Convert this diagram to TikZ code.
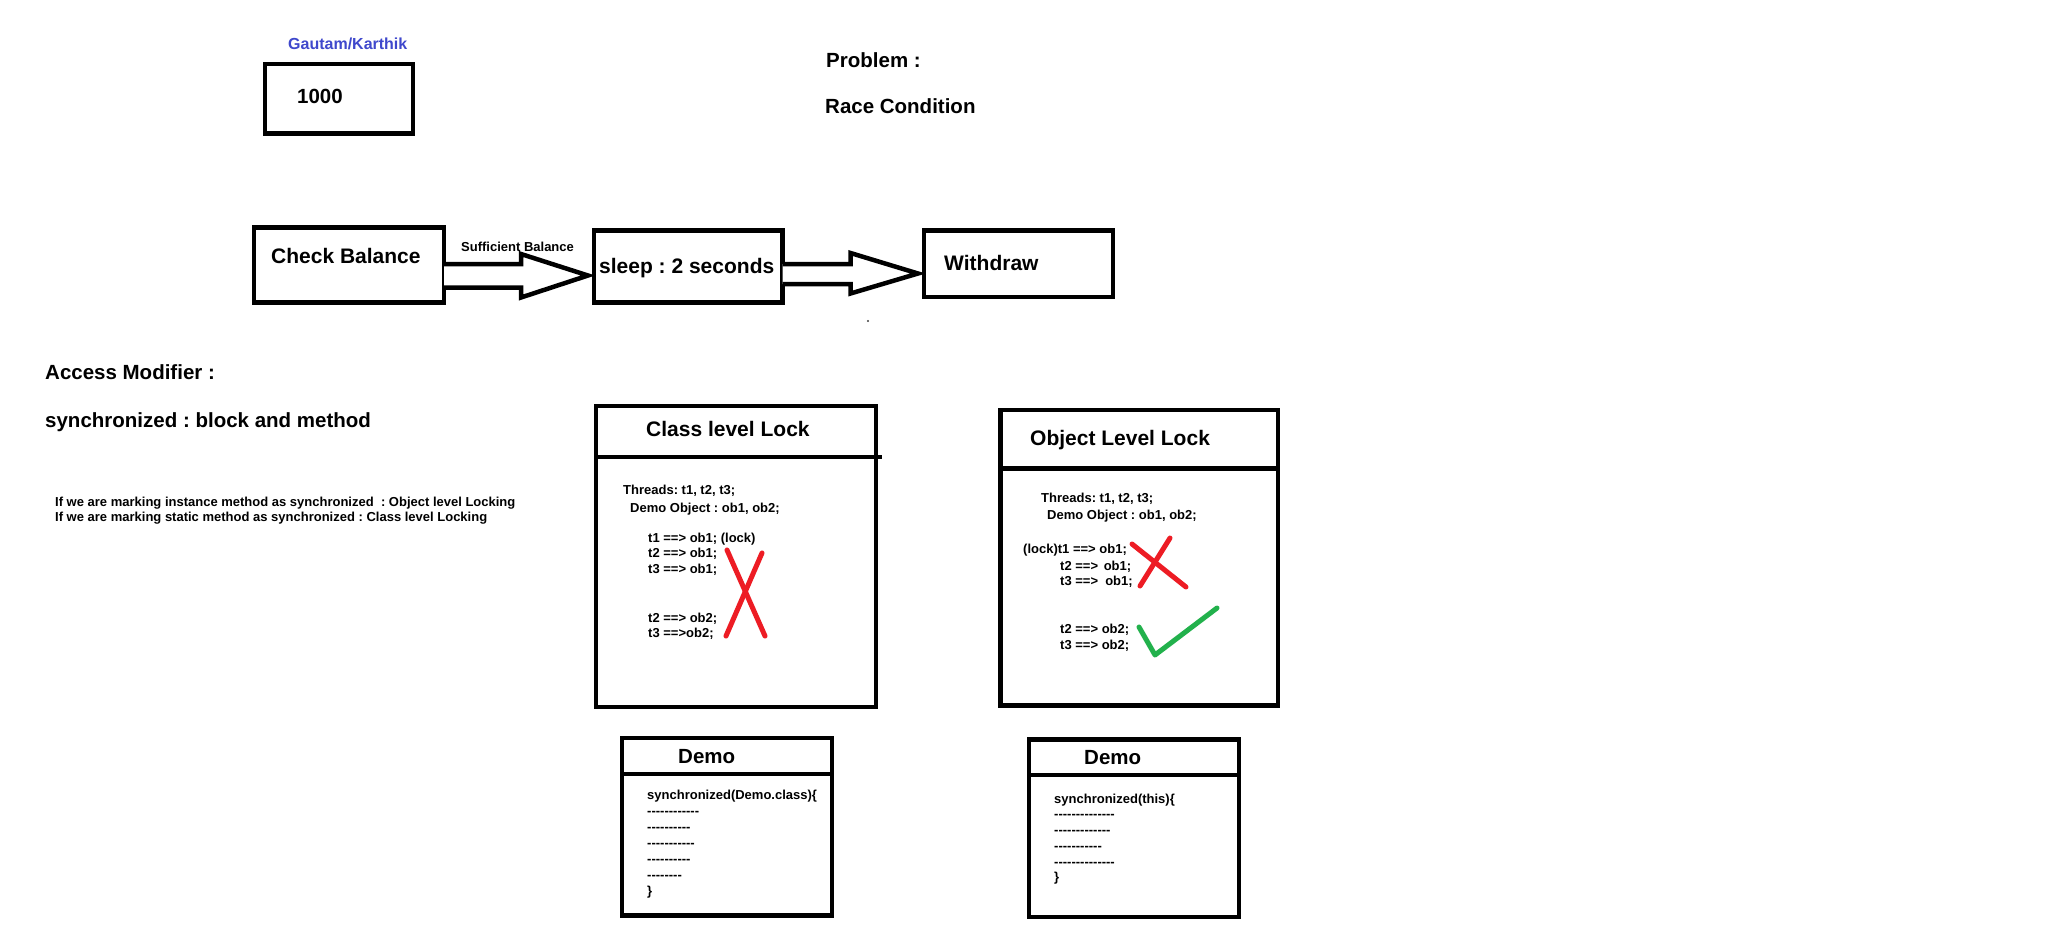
\documentclass[tikz,border=0pt]{standalone}
\usepackage{fontspec}
\setmainfont{Liberation Sans}
\usetikzlibrary{fit,calc}
\definecolor{pred}{HTML}{ED1C24}
\definecolor{pgreen}{HTML}{22B14C}
\definecolor{pblue}{HTML}{3F48CC}
\newcommand\dl[1]{\foreach\k in {1,...,#1}{\mbox{-}}}
\tikzset{
  box/.style={draw, line width=4.5pt, inner sep=0pt, outer sep=0pt},
  rule/.style={draw, line width=4.5pt},
  barrow/.style={draw, line width=4.5pt, fill=white, line join=miter},
  big/.style={anchor=base west, inner sep=0pt, font=\fontsize{20.5}{24}\selectfont\bfseries\frenchspacing},
  ttl/.style={anchor=base west, inner sep=0pt, font=\fontsize{21}{25}\selectfont\bfseries\frenchspacing},
  sm/.style={anchor=base west, inner sep=0pt, font=\fontsize{13}{15}\selectfont\bfseries\frenchspacing},
  stroke5/.style={line width=5pt, line cap=round, line join=round},
}
\begin{document}
\frenchspacing
\begin{tikzpicture}[x=1pt,y=-1pt]
\fill[white] (0,0) rectangle (2048,930);
\useasboundingbox (0,0) rectangle (2048,930);

% top left
\node[anchor=base west, inner sep=0pt, text=pblue, font=\fontsize{16}{19}\selectfont\bfseries] (gk) at (288,49) {Gautam/Karthik};
\node[box, fit={(265,64) (413,133.5)}] (bal) {};
\node[big] (balt) at (297,103) {1000};

\node[big] (prob) at (826,67) {Problem :};
\node[big] (race) at (825,113) {Race Condition};

% flow
\node[box, fit={(254,227.5) (444,302.5)}] (cb) {};
\node[ttl] (cbt) at (271,263) {Check Balance};
\node[box, fit={(594,230.5) (782.5,302.5)}] (sl) {};
\node[ttl] (slt) at (599,273) {sleep : 2 seconds};
\node[box, fit={(924,230.5) (1113,297)}] (wd) {};
\node[ttl] (wdt) at (944,270.5) {Withdraw};

\draw[barrow] (cb.east |- 0,264) -- (521,264) -- (521,254)
  -- ($(sl.west |- 0,275.5)+(-6,0)$) -- (521,297.5) -- (521,287.5) -- (cb.east |- 0,287.5);
\draw[barrow] (sl.east |- 0,264) -- (850.5,264) -- (850.5,253)
  -- ($(wd.west |- 0,273.5)+(-6,0)$) -- (850.5,293.5) -- (850.5,284) -- (sl.east |- 0,284);
\node[anchor=base west, inner sep=0pt, font=\fontsize{13}{15}\selectfont\bfseries] (suf) at (461,251) {Sufficient Balance};
\fill[black!75] (868,321) circle (1.2);

% left texts
\node[big] (am) at (45,379) {Access Modifier :};
\node[big] (sy) at (45,427) {synchronized : block and method};
\node[sm] (m1) at (55,506) {If we are marking instance method as synchronized\ \ : Object level Locking};
\node[sm] (m2) at (55,521) {If we are marking static method as synchronized : Class level Locking};

% class level lock
\node[box, fit={(596,406) (876,707)}] (cl) {};
\draw[rule] (cl.west |- 0,457) -- (882,457);
\node[ttl] (clt) at (646,436) {Class level Lock};
\node[sm] (c1) at (623,494) {Threads: t1, t2, t3;};
\node[sm] (c2) at (630,512) {Demo Object : ob1, ob2;};
\node[sm] (c3) at (648,542) {t1 ==> ob1; (lock)};
\node[sm] (c4) at (648,557.5) {t2 ==> ob1;};
\node[sm] (c5) at (648,573) {t3 ==> ob1;};
\node[sm] (c6) at (648,622) {t2 ==> ob2;};
\node[sm] (c7) at (648,637.5) {t3 ==>ob2;};
\draw[stroke5, pred] (727,550) -- (765,636);
\draw[stroke5, pred] (762,553) -- (726,636);

% object level lock
\node[box, fit={(1000.5,410) (1278,705.5)}] (ol) {};
\draw[rule] (ol.west |- 0,468.5) -- (ol.east |- 0,468.5);
\node[ttl] (olt) at (1030,445) {Object Level Lock};
\node[sm] (o1) at (1041,502) {Threads: t1, t2, t3;};
\node[sm] (o2) at (1047,519) {Demo Object : ob1, ob2;};
\node[sm] (o3) at (1023,553) {(lock)t1 ==> ob1;};
\node[sm] (o4) at (1060,570) {t2 ==>\hspace{2pt} ob1;};
\node[sm] (o5) at (1060,585) {t3 ==>\hspace{3.5pt} ob1;};
\node[sm] (o6) at (1060,633) {t2 ==> ob2;};
\node[sm] (o7) at (1060,649) {t3 ==> ob2;};
\draw[stroke5, pred] (1132,544) -- (1186,587);
\draw[stroke5, pred] (1170,538) -- (1140,586);
\draw[stroke5, pgreen] (1139,627) -- (1155,655) -- (1217,608);

% demo left
\node[box, fit={(622,738) (832,915.5)}] (dl) {};
\draw[rule] (dl.west |- 0,774) -- (dl.east |- 0,774);
\node[big] (dlt) at (678,763) {Demo};
\node[sm] (d1) at (647,799) {synchronized(Demo.class)\{};
\node[sm] (d2) at (647,815) {\dl{12}};
\node[sm] (d3) at (647,831) {\dl{10}};
\node[sm] (d4) at (647,847) {\dl{11}};
\node[sm] (d5) at (647,863) {\dl{10}};
\node[sm] (d6) at (647,879) {\dl{8}};
\node[sm] (d7) at (647,895) {\}};

% demo right
\node[box, fit={(1029,739.5) (1239,917)}] (dr) {};
\draw[rule] (dr.west |- 0,775) -- (dr.east |- 0,775);
\node[big] (drt) at (1084,764) {Demo};
\node[sm] (e1) at (1054,803) {synchronized(this)\{};
\node[sm] (e2) at (1054,818.5) {\dl{14}};
\node[sm] (e3) at (1054,834.5) {\dl{13}};
\node[sm] (e4) at (1054,850.5) {\dl{11}};
\node[sm] (e5) at (1054,866) {\dl{14}};
\node[sm] (e6) at (1054,881) {\}};
\end{tikzpicture}
\end{document}
